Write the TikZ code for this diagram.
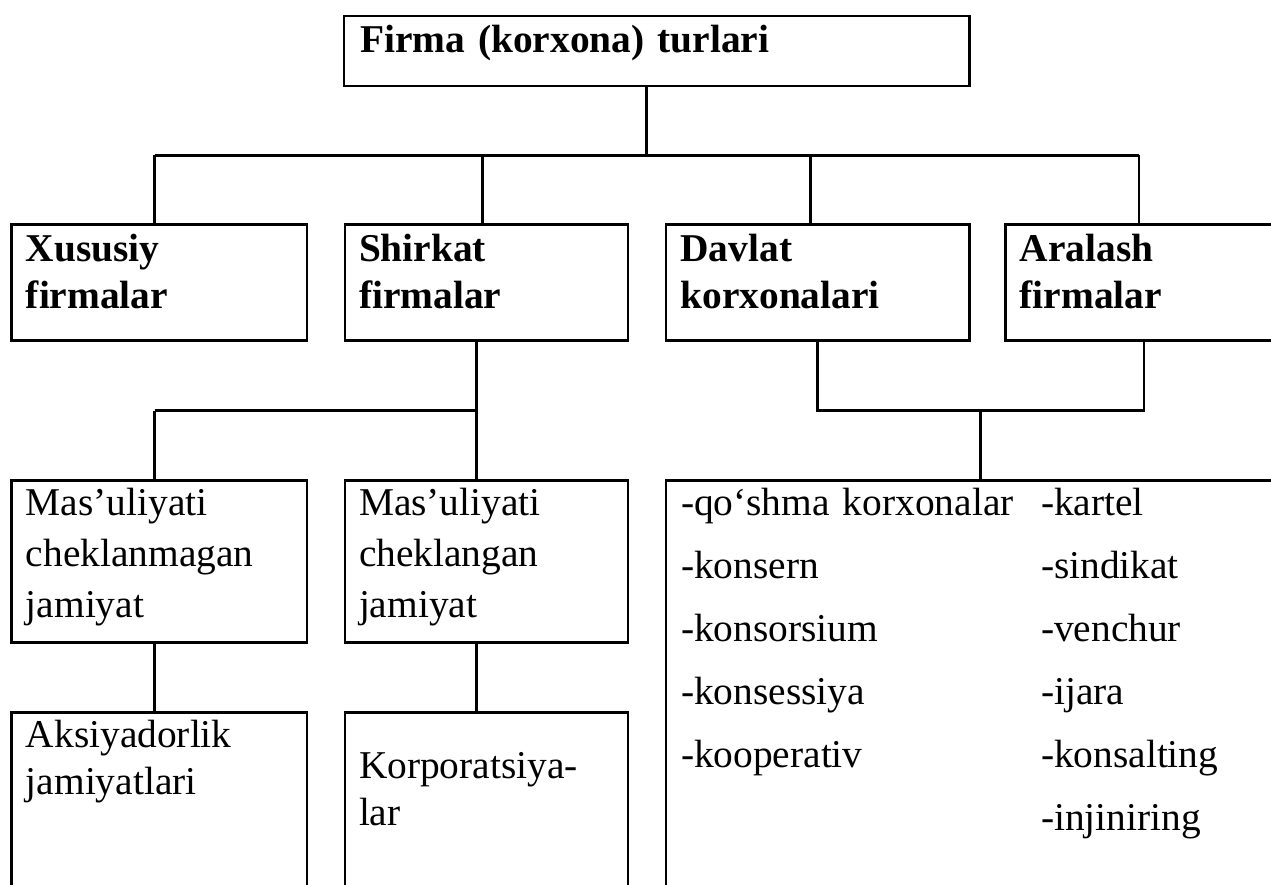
\documentclass[tikz,border=0pt]{standalone}
\usepackage{fontspec}
\setmainfont{Liberation Serif}
\usetikzlibrary{calc}
\tikzset{
  box/.style={draw, line width=2.6pt, inner sep=0pt, outer sep=0pt, anchor=north west, rectangle},
  link/.style={line width=2.6pt},
  txt/.style={inner sep=0pt, outer sep=0pt, anchor=base west, align=left, text width=600pt,
    font=\fontsize{39.4}{47}\selectfont},
  wtxt/.style={txt, font=\fontsize{39.4}{51}\selectfont},
  btxt/.style={txt, font=\fontsize{39.4}{47}\selectfont\bfseries},
  ltxt/.style={inner sep=0pt, outer sep=0pt, anchor=base west, align=left, text width=400pt,
    font=\fontsize{39.4}{63}\selectfont}
}
\begin{document}
\begin{tikzpicture}[x=1pt,y=-1pt]
\useasboundingbox (0,0) rectangle (1271,885);
\clip (0,0) rectangle (1271,885);
% boxes
\node[box, minimum width=625.5pt, minimum height=70pt] (top) at (344,16) {};
\node[box, minimum width=295.6pt, minimum height=116pt] (A) at (11.4,224.7) {};
\node[box, minimum width=282.8pt, minimum height=116pt] (B) at (345,224.7) {};
\node[box, minimum width=303.3pt, minimum height=116pt] (C) at (666,224.7) {};
\node[box, minimum width=294.7pt, minimum height=116pt] (D) at (1005.3,224.7) {};
\node[box, minimum width=295.6pt, minimum height=162pt] (E) at (11.4,480.7) {};
\node[box, minimum width=282.8pt, minimum height=162pt] (F) at (345,480.7) {};
\node[box, minimum width=634pt, minimum height=439pt] (G) at (666,480.7) {};
\node[box, minimum width=295.6pt, minimum height=207pt] (H) at (11.4,712.7) {};
\node[box, minimum width=282.8pt, minimum height=207pt] (I) at (345,712.7) {};
% texts
\node[btxt] (ttop) at ($(top.north west)+(16,37)$) {Firma (korxona) turlari};
\node[btxt] (tA) at ($(A.north west)+(14.5,37)$) {Xususiy\\firmalar};
\node[btxt] (tB) at ($(B.north west)+(14,37)$) {Shirkat\\firmalar};
\node[btxt] (tC) at ($(C.north west)+(14.5,37)$) {Davlat\\korxonalari};
\node[btxt] (tD) at ($(D.north west)+(14.5,37)$) {Aralash\\firmalar};
\node[wtxt] (tE) at ($(E.north west)+(14.5,35)$) {Mas’uliyati\\cheklanmagan\\jamiyat};
\node[wtxt] (tF) at ($(F.north west)+(14,35)$) {Mas’uliyati\\cheklangan\\jamiyat};
\node[txt] (tH) at ($(H.north west)+(14.5,35)$) {Aksiyadorlik\\jamiyatlari};
\node[txt] (tI) at ($(I.north west)+(14,66)$) {Korporatsiya-\\lar};
\node[ltxt] (tG1) at ($(G.north west)+(15,35)$) {-qo‘shma korxonalar\\-konsern\\-konsorsium\\-konsessiya\\-kooperativ};
\node[ltxt] (tG2) at ($(G.north west)+(375,35)$) {-kartel\\-sindikat\\-venchur\\-ijara\\-konsalting\\-injiniring};
% junction points
\coordinate (j0) at (646.5,155.3);
\coordinate (jA) at (154.7,155.3);
\coordinate (jB) at (482.4,155.3);
\coordinate (jC) at (810.5,155.3);
\coordinate (jD) at (1139,155.3);
\coordinate (kA) at (154.7,410.7);
\coordinate (kB) at (476.3,410.7);
\coordinate (kC) at (817.2,410.7);
\coordinate (kD) at (1144,410.7);
\coordinate (kG) at (980.4,410.7);
% connectors
\draw[link] (top.south -| j0) -- (j0);
\draw[link] (jA) -- (jD);
\draw[link] (jA) -- (jA |- A.north);
\draw[link] (jB) -- (jB |- B.north);
\draw[link] (jC) -- (jC |- C.north);
\draw[link] (jD) -- (jD |- D.north);
\draw[link] (kB |- B.south) -- (kB |- F.north);
\draw[link] (kA) -- (kB);
\draw[link] (kA) -- (kA |- E.north);
\draw[link] (kC |- C.south) -- (kC) -- (kD) -- (kD |- D.south);
\draw[link] (kG) -- (kG |- G.north);
\draw[link] (kA |- E.south) -- (kA |- H.north);
\draw[link] (kB |- F.south) -- (kB |- I.north);
\end{tikzpicture}
\end{document}
